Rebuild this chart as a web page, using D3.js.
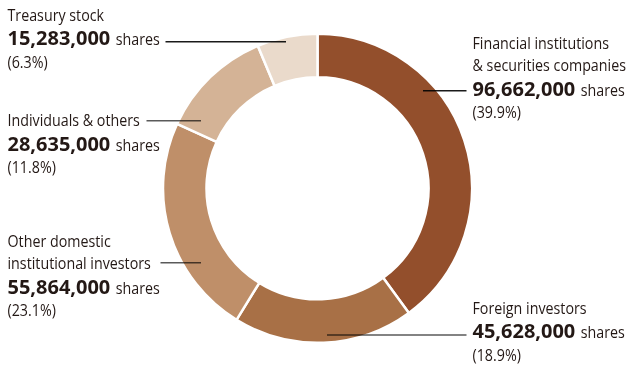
<!DOCTYPE html>
<html>
<head>
<meta charset="utf-8">
<script src="https://cdn.jsdelivr.net/npm/d3@7"></script>
<style>
  html, body { margin: 0; padding: 0; background: #fff; }
  svg { display: block; }
  text { font-family: "Open Sans", "Noto Sans", sans-serif; fill: #231815; }
</style>
</head>
<body>
<svg id="chart" width="630" height="367"></svg>
<script>
// Shareholder composition, clockwise from 12 o'clock
const categories = [
  "Financial institutions & securities companies",
  "Foreign investors",
  "Other domestic institutional investors",
  "Individuals & others",
  "Treasury stock"
];
const shares = [96662000, 45628000, 55864000, 28635000, 15283000];
const percents = [39.9, 18.9, 23.1, 11.8, 6.3];
const labelLines = [
  ["Financial institutions", "& securities companies"],
  ["Foreign investors"],
  ["Other domestic", "institutional investors"],
  ["Individuals & others"],
  ["Treasury stock"]
];
const colors = ["#934f2c", "#a87046", "#bf8f69", "#d4b396", "#eadacb"];

const svg = d3.select("#chart");
const cx = 317.5, cy = 188.3, rOuter = 154.5, rInner = 111;

const pie = d3.pie().sort(null).value(d => d);
const arcs = pie(shares);
const arc = d3.arc().innerRadius(rInner).outerRadius(rOuter);

const g = svg.append("g").attr("transform", `translate(${cx},${cy})`);
g.selectAll("path.slice")
  .data(arcs)
  .join("path")
  .attr("class", "slice")
  .attr("d", arc)
  .attr("fill", (d, i) => colors[i])
  .attr("stroke", "#fff")
  .attr("stroke-width", 2.5)
  .attr("stroke-linejoin", "miter");

// Label layout: anchor x, first baseline, leader line (y, x-range) per slice
const layout = [
  { x: 472.5, y: 48.5, lineY: 90.7, lineFrom: 423, lineTo: 466.5, dark: true },
  { x: 472.5, y: 313.5, lineY: 335, lineFrom: 327, lineTo: 466.5, dark: false },
  { x: 7.5, y: 246.5, lineY: 262.7, lineFrom: 160.5, lineTo: 201, dark: false },
  { x: 7.5, y: 126, lineY: 120.7, lineFrom: 146.5, lineTo: 201, dark: false },
  { x: 7.5, y: 20.8, lineY: 41.7, lineFrom: 165.5, lineTo: 286, dark: true }
];
const lineH = 22.7;
const squeeze = 0.865;   // narrow the regular face
const fmt = d3.format(",");

// text drawn at (x, y) with horizontal condensing; returns its rendered width
function label(x, y, str, size, weight, sx) {
  const t = svg.append("text")
    .attr("transform", `translate(${x},${y}) scale(${sx},1)`)
    .attr("font-size", size)
    .attr("font-weight", weight)
    .text(str);
  return t.node().getComputedTextLength() * sx;
}

layout.forEach((L, i) => {
  const lines = labelLines[i];
  lines.forEach((s, k) => label(L.x, L.y + k * lineH, s, 16.5, "normal", squeeze));
  const numY = L.y + lines.length * lineH + 1.8;
  const w = label(L.x, numY, fmt(shares[i]), 19.8, "bold", 1.01);
  label(L.x + w + 5.5, numY, "shares", 16.5, "normal", squeeze);
  label(L.x, numY + lineH, `(${percents[i]}%)`, 16.5, "normal", squeeze);

  svg.append("line")
    .attr("x1", L.lineFrom).attr("x2", L.lineTo)
    .attr("y1", L.lineY).attr("y2", L.lineY)
    .attr("stroke", L.dark ? "#1a1a1a" : "#5a5a5a")
    .attr("stroke-width", 1.4)
    .style("mix-blend-mode", "multiply");
});
</script>
</body>
</html>
